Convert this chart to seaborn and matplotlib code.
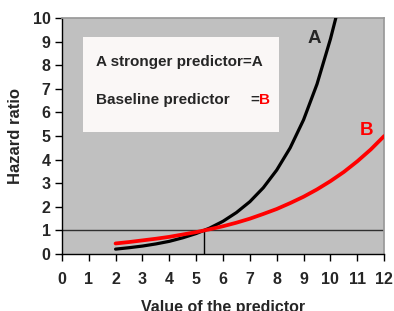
"""
hazard_ratio_curves.py
Hazard ratio versus predictor value for a strong and a baseline predictor.
"""

import pandas as pd
import matplotlib.pyplot as plt
import seaborn as sns

# values
x_a = [2.0, 2.5, 3.0, 3.5, 4.0, 4.5, 5.0, 5.5, 6.0, 6.5, 7.0, 7.5, 8.0, 8.5,
       9.0, 9.5, 10.0, 10.2]
hr_a = [0.21, 0.27, 0.34, 0.43, 0.54, 0.69, 0.87, 1.10, 1.39, 1.76, 2.22, 2.81,
        3.56, 4.50, 5.69, 7.20, 9.11, 10.0]
x_b = [2.0, 2.5, 3.0, 3.5, 4.0, 4.5, 5.0, 5.5, 6.0, 6.5, 7.0, 7.5, 8.0, 8.5,
       9.0, 9.5, 10.0, 10.5, 11.0, 11.5, 12.0]
hr_b = [0.45, 0.51, 0.58, 0.65, 0.73, 0.83, 0.93, 1.05, 1.18, 1.33, 1.50, 1.70,
        1.91, 2.16, 2.43, 2.74, 3.09, 3.48, 3.93, 4.43, 5.00]
x_cross = 5.3
x_ticks = list(range(0, 13))
y_ticks = list(range(0, 11))

df = pd.concat([
    pd.DataFrame({"x": x_a, "hr": hr_a, "predictor": "A"}),
    pd.DataFrame({"x": x_b, "hr": hr_b, "predictor": "B"}),
])

sns.set_theme(style="ticks")
plt.rcParams["font.family"] = ["Liberation Sans", "DejaVu Sans"]
plt.rcParams["font.weight"] = "bold"

fig = plt.figure(figsize=(3.94, 3.11), dpi=100)
ax = fig.add_axes([0.157, 0.183, 0.818, 0.759])
ax.set_facecolor("#c0c0c0")

# reference lines
ax.axhline(1, color="#303030", lw=1.0, zorder=1)
ax.plot([x_cross, x_cross], [0, 1], color="black", lw=1.0, zorder=1)

sns.lineplot(data=df, x="x", y="hr", hue="predictor", size="predictor",
             sizes={"A": 2.3, "B": 2.7},
             palette={"A": "black", "B": "#ff0000"},
             legend=False, ax=ax, zorder=3)

ax.set_xlim(0, 12)
ax.set_ylim(0, 10)
ax.set_xticks(x_ticks)
ax.set_yticks(y_ticks)
ax.tick_params(axis="x", direction="out", length=5, width=1, pad=8,
               labelsize=11.5, color="black")
ax.tick_params(axis="y", direction="out", length=5, width=1, pad=3,
               labelsize=11.5, color="black")
for lab in ax.get_xticklabels() + ax.get_yticklabels():
    lab.set_fontweight("bold")

for side in ["top", "right"]:
    ax.spines[side].set_visible(True)
    ax.spines[side].set_color("#999999")
for side in ["left", "bottom"]:
    ax.spines[side].set_color("black")
    ax.spines[side].set_linewidth(1.0)

ax.set_xlabel("Value of the predictor", fontsize=11.5, fontweight="bold",
              labelpad=9)
ax.set_ylabel("Hazard ratio", fontsize=12, fontweight="bold", labelpad=7)

# annotation box
box = plt.Rectangle((0.065, 0.517), 0.609, 0.402, transform=ax.transAxes,
                    facecolor="#faf7f6", edgecolor="none", zorder=2)
ax.add_patch(box)
ax.text(0.106, 0.814, "A stronger predictor=A", transform=ax.transAxes,
        fontsize=11, fontweight="bold", va="center", ha="left", zorder=4)
ax.text(0.106, 0.653, "Baseline predictor", transform=ax.transAxes,
        fontsize=11, fontweight="bold", va="center", ha="left", zorder=4)
ax.text(0.584, 0.653, "=", transform=ax.transAxes,
        fontsize=11, fontweight="bold", va="center", ha="left", zorder=4)
ax.text(0.612, 0.653, "B", transform=ax.transAxes, color="#ff0000",
        fontsize=11, fontweight="bold", va="center", ha="left", zorder=4)

# curve labels
ax.text(0.782, 0.915, "A", transform=ax.transAxes, fontsize=13.5,
        fontweight="bold", ha="center", va="center", zorder=4)
ax.text(0.944, 0.525, "B", transform=ax.transAxes, fontsize=13.5,
        fontweight="bold", color="#ff0000", ha="center", va="center", zorder=4)

plt.savefig("out.png", dpi=100)
plt.close()
